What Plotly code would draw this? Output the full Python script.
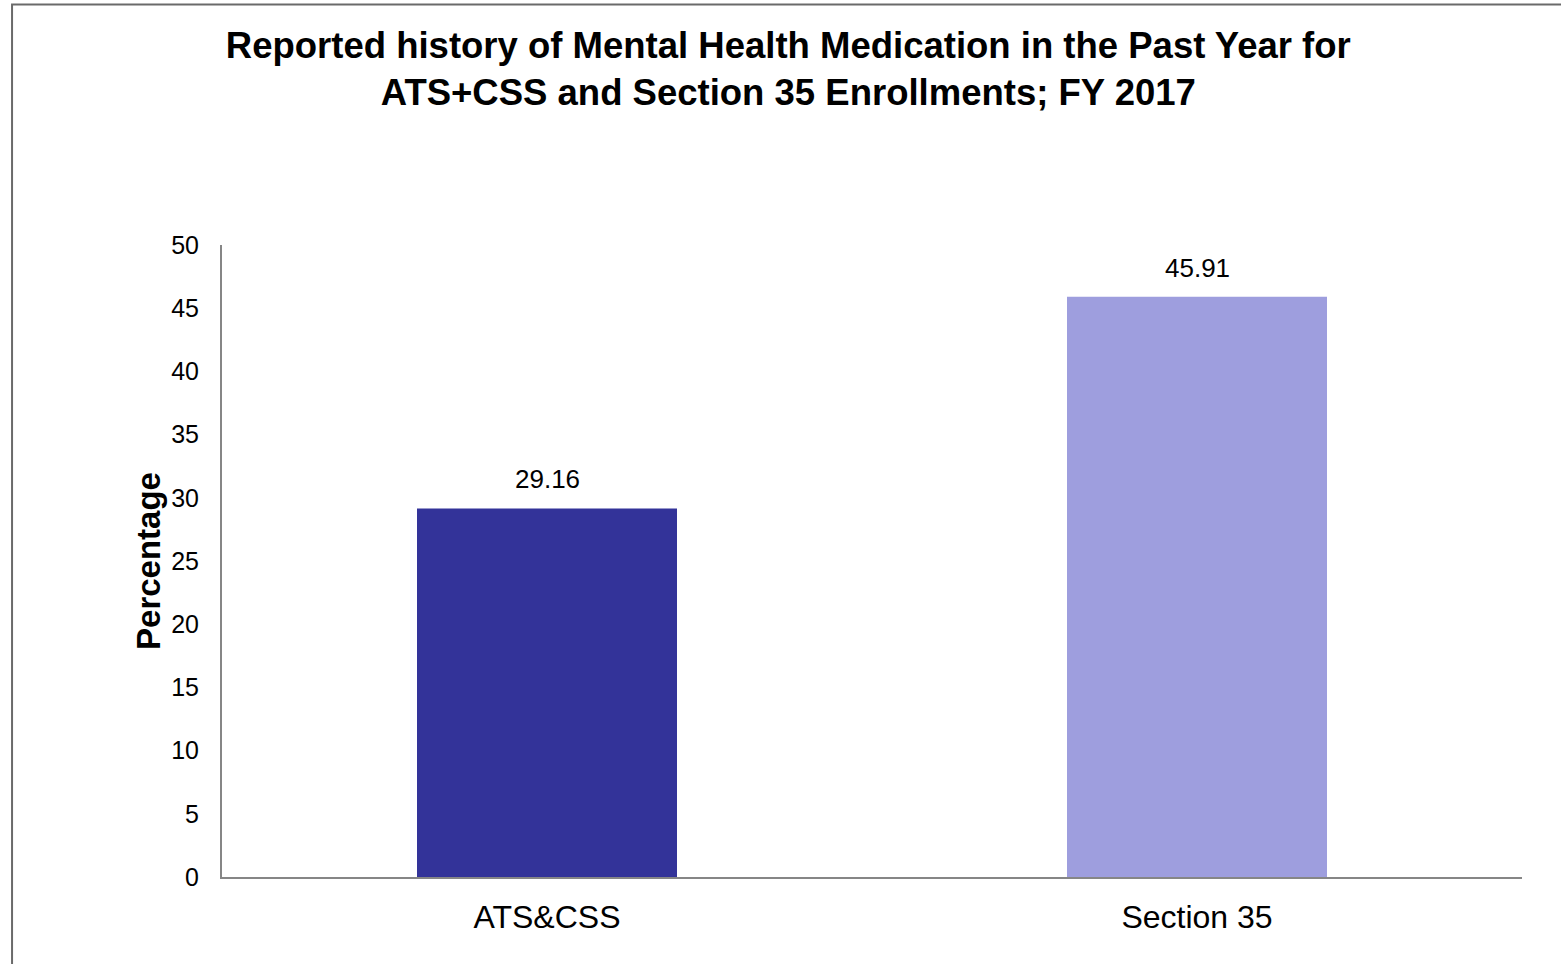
import plotly.graph_objects as go

categories = ["ATS&CSS", "Section 35"]
percentages = [29.16, 45.91]
bar_colors = ["#333399", "#9E9EDE"]
y_ticks = [0, 5, 10, 15, 20, 25, 30, 35, 40, 45, 50]

FONT = "Liberation Sans, Arial, sans-serif"

fig = go.Figure()
fig.add_trace(go.Bar(
    x=categories,
    y=percentages,
    marker=dict(color=bar_colors, line=dict(width=0)),
    showlegend=False,
    hoverinfo="x+y"
))

# value labels above each bar
for cat, val in zip(categories, percentages):
    fig.add_annotation(
        x=cat, y=val, text=f"{val:.2f}",
        showarrow=False, yanchor="bottom", yshift=12,
        font=dict(family=FONT, size=26, color="black")
    )

# outer frame of the chart
fig.add_shape(
    type="rect", xref="paper", yref="paper",
    x0=-0.1615, x1=1.04, y0=-0.16, y1=1.3805,
    line=dict(color="#6a6a6a", width=2), fillcolor="rgba(0,0,0,0)",
    layer="below"
)

fig.update_layout(
    width=1561,
    height=964,
    margin=dict(l=222, r=39, t=245, b=87),
    paper_bgcolor="white",
    plot_bgcolor="white",
    bargap=0.6,
    font=dict(family=FONT, color="black"),
    title=dict(
        text="<b>Reported history of Mental Health Medication in the Past Year for<br>"
             "ATS+CSS and Section 35 Enrollments; FY 2017</b>",
        x=0.505, xanchor="center",
        y=1 - 58 / 964, yanchor="middle",
        font=dict(family=FONT, size=36.5, color="black")
    ),
    xaxis=dict(
        showline=True, linecolor="#868686", linewidth=2,
        showgrid=False, ticks="", zeroline=False,
        tickfont=dict(family=FONT, size=32, color="black"),
        ticklabelstandoff=11
    ),
    yaxis=dict(
        range=[0, 50], tickvals=y_ticks,
        showline=True, linecolor="#868686", linewidth=2,
        showgrid=False, ticks="", zeroline=False,
        tickfont=dict(family=FONT, size=25, color="black"),
        ticklabelstandoff=16,
        title=dict(text="<b>Percentage</b>", standoff=1,
                   font=dict(family=FONT, size=33, color="black"))
    )
)

# the page has a default body margin; drop it so the figure sits at the corner
fig.write_html("out.html", config={"displayModeBar": False},
               post_script="document.body.style.margin='0';")
